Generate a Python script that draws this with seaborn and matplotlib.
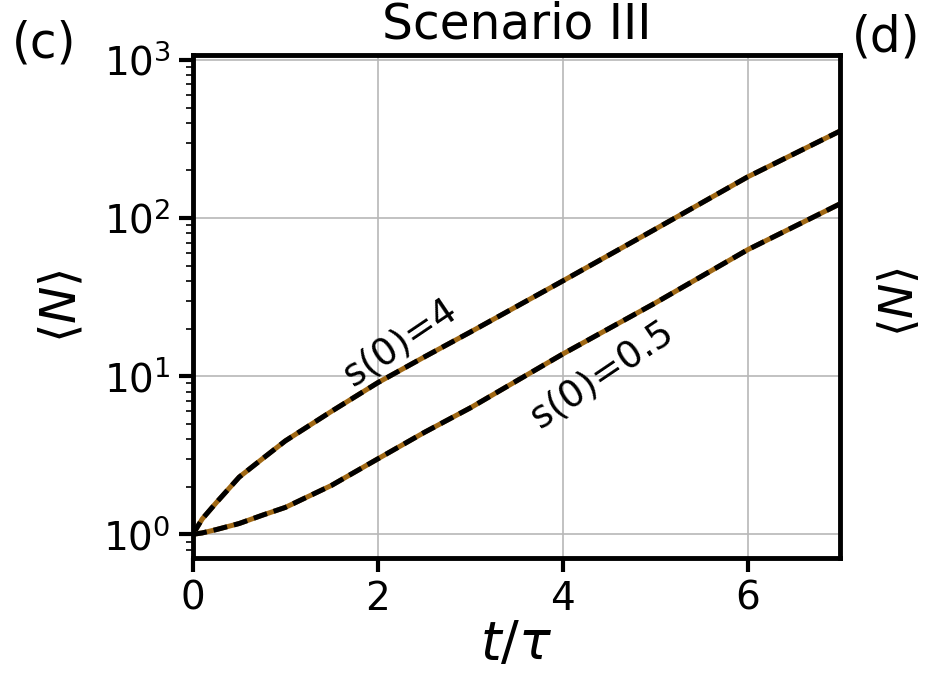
import numpy as np
import pandas as pd
import seaborn as sns
import matplotlib.pyplot as plt

# values
t = [0, 0.05, 0.1, 0.25, 0.5, 0.75, 1, 1.5, 2, 2.5, 3, 4, 5, 6, 7]
n_s4 = [1, 1.12, 1.25, 1.58, 2.3, 3.0, 3.9, 6.0, 9.1, 13.2, 19, 40, 85, 182, 355]
n_s05 = [1, 1.01, 1.02, 1.07, 1.17, 1.32, 1.48, 2.04, 3.0, 4.4, 6.3, 13.8, 29, 63, 123]
labels = ["s(0)=4", "s(0)=0.5"]
label_pos = [(2.24, 16.3), (4.43, 10.2)]

df = pd.DataFrame({"t": t * 2,
                   "N": n_s4 + n_s05,
                   "s0": [labels[0]] * len(t) + [labels[1]] * len(t)})

sns.set_style("white")
plt.rcParams["font.family"] = ["DejaVu Sans"]
plt.rcParams.update({"text.color": "black", "axes.labelcolor": "black",
                     "xtick.color": "black", "ytick.color": "black"})

fig = plt.figure(figsize=(9.26, 6.78), dpi=100)
ax = fig.add_axes([0.2084, 0.1777, 0.6987, 0.7412])

brown = "#a06814"
for lab in labels:
    sub = df[df["s0"] == lab]
    sns.lineplot(data=sub, x="t", y="N", ax=ax, color=brown, lw=3.6)
    sns.lineplot(data=sub, x="t", y="N", ax=ax, color="black", lw=3.6,
                 linestyle=(0, (2.8, 1.4)))

ax.set_yscale("log")
ax.set_xlim(0, 7)
ax.set_ylim(0.713, 1075)
ax.set_xticks([0, 2, 4, 6])
ax.grid(True, color="#b8b8b8", lw=1.2)
ax.set_axisbelow(True)

for lab, (x, y) in zip(labels, label_pos):
    ax.text(x, y, lab, rotation=34, rotation_mode="anchor",
            ha="center", va="center", fontsize=27)

for sp in ax.spines.values():
    sp.set_linewidth(3.5)
    sp.set_color("black")
ax.tick_params(which="major", length=10, width=3, labelsize=28, direction="out",
               left=True, bottom=True, pad=6)
ax.tick_params(which="minor", axis="y", length=5, width=1.2, left=True)

ax.set_xlabel(r"$t/\tau$", fontsize=38, labelpad=0)
ax.set_ylabel(r"$\langle N\rangle$", fontsize=36, labelpad=12)
ax.set_title("Scenario III", fontsize=35, pad=12)

fig.text(0.013, 0.936, "(c)", fontsize=35, ha="left", va="center")
fig.text(0.92, 0.944, "(d)", fontsize=35, ha="left", va="center")
fig.text(0.972, 0.555, r"$\langle N\rangle$", fontsize=34, rotation=90,
         ha="center", va="center")

fig.savefig("out.png", dpi=100)
